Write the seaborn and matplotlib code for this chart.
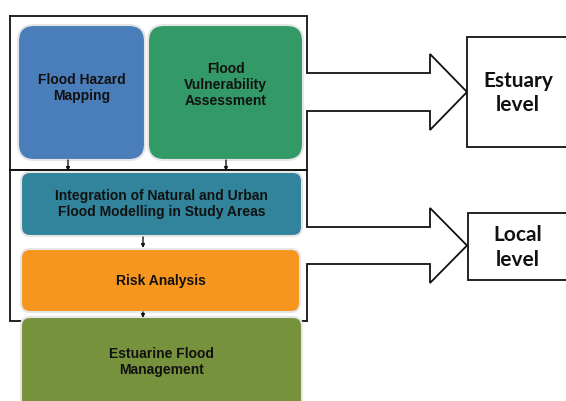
import matplotlib
matplotlib.use("Agg")
import matplotlib.pyplot as plt
from matplotlib.patches import FancyBboxPatch, Rectangle
import seaborn as sns

# Labels of the flow boxes
stage_labels = [
    "Flood Hazard\nMapping",
    "Flood\nVulnerability\nAssessment",
    "Integration of Natural and Urban\nFlood Modelling in Study Areas",
    "Risk Analysis",
    "Estuarine Flood\nManagement",
]
stage_colors = ["#4a7ebb", "#339966", "#31849b", "#f7961e", "#76923c"]
level_labels = ["Estuary\nlevel", "Local\nlevel"]

sns.set_style("white")
plt.rcParams["font.family"] = ["Liberation Sans", "DejaVu Sans"]

fig = plt.figure(figsize=(5.66, 4.01), dpi=100)
ax = fig.add_axes([0, 0, 1, 1])
ax.set_xlim(0, 566)
ax.set_ylim(401, 0)
ax.axis("off")

#Stage boxes (x, y, w, h, corner radius)
boxes = [
    (18, 25, 127, 135, 16),
    (148, 25, 155, 135, 16),
    (21, 172, 281, 64, 9),
    (21, 249, 279, 63, 9),
    (21, 317, 281, 100, 9),
]
text_y = [88, 85, 204, 281, 362]
for (x, y, w, h, r), label, col, ty in zip(boxes, stage_labels, stage_colors, text_y):
    ax.add_patch(FancyBboxPatch((x + r, y + r), w - 2 * r, h - 2 * r,
                                boxstyle="round,pad=%d" % r,
                                facecolor=col, edgecolor="#e6e6e6", lw=1.5, zorder=2))
    ax.text(x + w / 2, ty, label, ha="center", va="center", fontsize=10,
            fontweight="bold", color="#111111", linespacing=1.15, zorder=3)

#Bracket outlines turning into the big arrows
def bracket_arrow(y0, y1, ya, yb):
    ym = (ya + yb) / 2
    half = (yb - ya) / 2 + 19
    xs = [10, 307, 307, 430, 430, 467, 430, 430, 307, 307, 10, 10]
    ys = [y0, y0, ya, ya, ym - half, ym, ym + half, yb, yb, y1, y1, y0]
    ax.plot(xs, ys, color="#111111", lw=1.3, zorder=1, solid_joinstyle="miter")

bracket_arrow(16, 170, 73, 111)
bracket_arrow(170, 321, 227, 264)

#Level boxes
levels = [(467, 37, 110), (468, 213, 67)]
for (x, y, h), label in zip(levels, level_labels):
    ax.add_patch(Rectangle((x, y), 120, h, facecolor="white",
                           edgecolor="#111111", lw=1.3, zorder=1))
    ax.text(518, y + h / 2 + 1, label, ha="center", va="center", fontsize=15,
            fontweight="bold", family=["Lato", "DejaVu Sans"], color="#111111",
            linespacing=1.3, zorder=3)

#Small connector arrows
for x, y0, y1 in [(68, 160, 171), (226, 160, 171), (143, 237, 248), (143, 312, 318)]:
    ax.annotate("", xy=(x, y1), xytext=(x, y0),
                arrowprops=dict(arrowstyle="-|>", color="#111111", lw=1,
                                mutation_scale=5, shrinkA=0, shrinkB=0), zorder=4)

plt.savefig("out.png", dpi=100)
